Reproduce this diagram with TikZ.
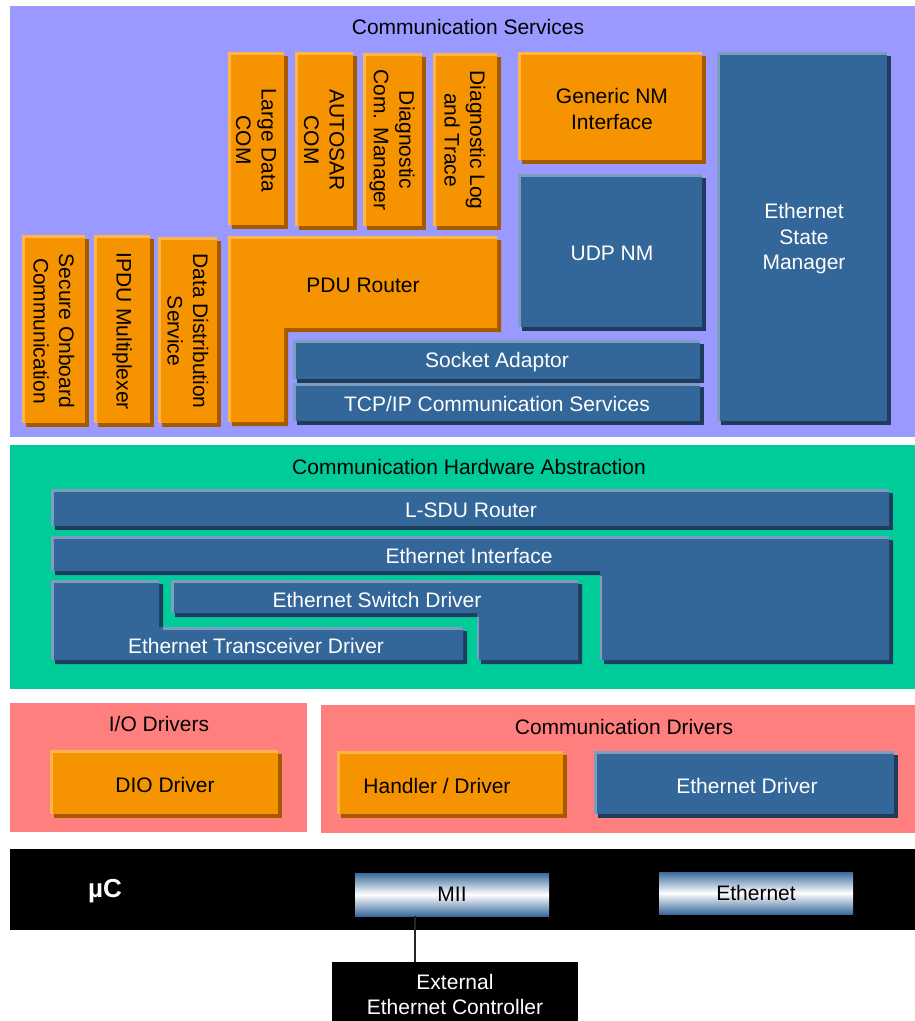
\documentclass[tikz,border=0pt]{standalone}
\usepackage{fontspec}
\setmainfont{Liberation Sans}
\definecolor{svc}{HTML}{9999FF}
\definecolor{hwa}{HTML}{00CC99}
\definecolor{drv}{HTML}{FF7F7F}
\definecolor{obody}{HTML}{F59300}
\definecolor{olight}{HTML}{FFB54A}
\definecolor{odark}{HTML}{A65A00}
\definecolor{bbody}{HTML}{336699}
\definecolor{blight}{HTML}{7C9DBF}
\definecolor{bdark}{HTML}{1E3D5E}
\definecolor{miiblue}{HTML}{3A6A9C}
\newcommand{\rbx}[5]{%
  \fill[#1dark] ({#2+4},{#3+4}) rectangle ({#4+4},{#5+4});
  \fill[#1body] (#2,#3) rectangle (#4,#5);
  \draw[#1light,line width=3pt] ({#2+1.5},#5) -- ({#2+1.5},{#3+1.5}) -- (#4,{#3+1.5});
}
\tikzset{
  lbl/.style={font=\fontsize{21}{25.5}\selectfont, align=center, inner sep=0pt},
  wt/.style={lbl, text=white},
  bk/.style={lbl, text=black},
  vt/.style={bk, rotate=-90},
}
\begin{document}
\begin{tikzpicture}[x=1pt,y=-1pt]
\useasboundingbox (0,0) rectangle (915,1021);
\fill[white] (0,0) rectangle (915,1021);
% layers
\fill[svc] (10,6) rectangle (915,437);
\fill[hwa] (10,445) rectangle (915,689);
\fill[drv] (10,703) rectangle (307,832);
\fill[drv] (321,705) rectangle (915,833);
\fill[black] (10,849) rectangle (915,930);

\node[bk] (tsvc) at (468,27) {Communication Services};
\node[bk] (thwa) at (469,467) {Communication Hardware Abstraction};
\node[bk] (tio) at (159,724) {I/O Drivers};
\node[bk] (tcd) at (624,727) {Communication Drivers};

% ---- Communication Services ----
\rbx{o}{228}{52}{284}{225}
\rbx{o}{295}{52}{353}{226}
\rbx{o}{363}{53}{422}{226}
\rbx{o}{433}{53}{497}{226}
\rbx{o}{22}{235}{85}{423}
\rbx{o}{94}{235}{150}{423}
\rbx{o}{158}{237}{217}{423}
\node[vt] (ldc) at (256,140) {Large Data\\COM};
\node[vt] (acom) at (324,140) {AUTOSAR\\COM};
\node[vt] (dcm) at (392,140) {Diagnostic\\Com. Manager};
\node[vt] (dlt) at (465,140) {Diagnostic Log\\and Trace};
\node[vt] (secoc) at (54,331) {Secure Onboard\\Communication};
\node[vt] (ipdum) at (122,331) {IPDU Multiplexer};
\node[vt] (dds) at (188,331) {Data Distribution\\Service};

% PDU Router (L shape)
\fill[odark,shift={(4,4)}] (228,236) -- (497,236) -- (497,328) -- (284,328) -- (284,422) -- (228,422) -- cycle;
\fill[obody] (228,236) -- (497,236) -- (497,328) -- (284,328) -- (284,422) -- (228,422) -- cycle;
\draw[olight,line width=3pt] (229.5,422) -- (229.5,237.5) -- (497,237.5);
\node[bk] (pdur) at (363,285) {PDU Router};

% Socket adaptor and TCP/IP
\rbx{b}{293}{383}{700}{421}
\rbx{b}{293}{340}{700}{379}
\node[wt] (soad) at (497,362) {Socket Adaptor};
\node[wt] (tcpip) at (497,404) {TCP/IP Communication Services};

\rbx{o}{518}{52}{702}{160}
\node[bk] (nm) at (612,109) {Generic NM\\Interface};
\rbx{b}{518}{174}{702}{327}
\node[wt] (udpnm) at (612,253) {UDP NM};
\rbx{b}{717}{52}{887}{421}
\node[wt] (ethsm) at (804,239) {Ethernet\\State\\Manager};

% ---- Communication Hardware Abstraction ----
\rbx{b}{51}{489}{889}{526}
\node[wt] (lsdu) at (471,510) {L-SDU Router};

\fill[bdark,shift={(4,4)}] (51,536) -- (889,536) -- (889,660) -- (600,660) -- (600,571) -- (51,571) -- cycle;
\fill[bbody] (51,536) -- (889,536) -- (889,660) -- (600,660) -- (600,571) -- (51,571) -- cycle;
\draw[blight,line width=3pt] (52.5,571) -- (52.5,537.5) -- (889,537.5);
\draw[blight,line width=2pt] (601,660) -- (601,576);
\node[wt] (ethif) at (469,556) {Ethernet Interface};

\fill[bdark,shift={(4,4)}] (171,580) -- (578,580) -- (578,660) -- (477,660) -- (477,613) -- (171,613) -- cycle;
\fill[bbody] (171,580) -- (578,580) -- (578,660) -- (477,660) -- (477,613) -- (171,613) -- cycle;
\draw[blight,line width=3pt] (172.5,613) -- (172.5,581.5) -- (578,581.5);
\draw[blight,line width=2pt] (478,660) -- (478,617);
\node[wt] (ethsw) at (377,600) {Ethernet Switch Driver};

\fill[bdark,shift={(4,4)}] (51,580) -- (159,580) -- (159,627) -- (463,627) -- (463,660) -- (51,660) -- cycle;
\fill[bbody] (51,580) -- (159,580) -- (159,627) -- (463,627) -- (463,660) -- (51,660) -- cycle;
\draw[blight,line width=3pt] (52.5,660) -- (52.5,581.5) -- (159,581.5);
\draw[blight,line width=3pt] (163,628.5) -- (463,628.5);
\node[wt] (ethtrcv) at (256,646) {Ethernet Transceiver Driver};

% ---- Drivers ----
\rbx{o}{50}{750}{278}{814}
\node[bk] (dio) at (165,785) {DIO Driver};
\rbx{o}{337}{751}{563}{814}
\node[bk] (hdl) at (437,786) {Handler / Driver};
\rbx{b}{594}{751}{894}{814}
\node[wt] (ethdrv) at (747,786) {Ethernet Driver};

% ---- Microcontroller ----
\node[text=white, font=\bfseries\fontsize{26}{30}\selectfont, inner sep=0pt] (uc) at (105,891) {µC};
\node[lbl, minimum width=194pt, minimum height=43pt, top color=miiblue, bottom color=miiblue, middle color=white] (mii) at (452,894.5) {MII};
\node[lbl, minimum width=194pt, minimum height=42pt, top color=miiblue, bottom color=miiblue, middle color=white] (eth) at (756,893) {Ethernet};
\node[fill=black, inner sep=0pt, minimum width=246pt, minimum height=59pt, anchor=north] (ext) at (455,962) {};
\node[wt] (exttxt) at (455,994.5) {External\\Ethernet Controller};
\draw[black!85, line width=1.5pt] ([xshift=60pt]mii.south west) -- ([xshift=60pt]mii.south west |- ext.north);
\end{tikzpicture}
\end{document}
